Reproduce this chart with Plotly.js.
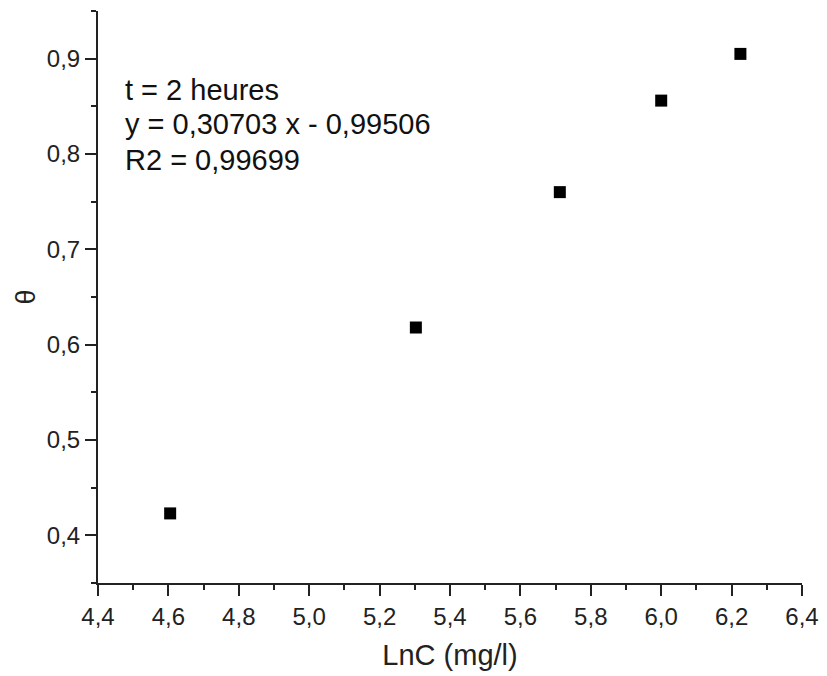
<!DOCTYPE html>
<html>
<head>
<meta charset="utf-8">
<script src="https://cdn.plot.ly/plotly-3.0.1.min.js"></script>
<style>html,body{margin:0;padding:0;background:#fff;}#chart{width:827px;height:676px;}</style>
</head>
<body>
<div id="chart"></div>
<script>
const lnC = [4.605, 5.303, 5.712, 6.0, 6.225];
const theta = [0.423, 0.618, 0.760, 0.856, 0.905];
const xTitle = 'LnC (mg/l)';
const yTitle = 'θ';
const annotationLines = ['t = 2 heures', 'y = 0,30703 x - 0,99506', 'R2 = 0,99699'];
const annotationY = [0.862, 0.802, 0.740];

const fam = 'Liberation Sans, Arial, sans-serif';
const tickFont = {family: fam, size: 24, color: '#222'};
const titleFont = {family: fam, size: 29, color: '#222'};
const annFont = {family: fam, size: 29, color: '#111'};

const trace = {
  x: lnC, y: theta, type: 'scatter', mode: 'markers',
  marker: {symbol: 'square', size: 12, color: '#000'},
  showlegend: false
};

const axisCommon = {
  showline: true, linecolor: '#222', linewidth: 2,
  ticks: 'outside', ticklen: 11, tickwidth: 2, tickcolor: '#222',
  showgrid: false, zeroline: false, tickfont: tickFont, mirror: false
};

const layout = {
  width: 827, height: 676,
  margin: {l: 98, r: 25, t: 11, b: 93},
  paper_bgcolor: '#fff', plot_bgcolor: '#fff',
  separators: ', ',
  font: tickFont,
  xaxis: Object.assign({}, axisCommon, {
    range: [4.4, 6.4], dtick: 0.2, tick0: 4.4, tickformat: '.1f',
    minor: {dtick: 0.1, ticks: 'outside', ticklen: 5, tickwidth: 2, tickcolor: '#222', showgrid: false},
    title: {text: xTitle, font: titleFont, standoff: 16}
  }),
  yaxis: Object.assign({}, axisCommon, {
    range: [0.35, 0.95], dtick: 0.1, tick0: 0.4, tickformat: '.1f',
    minor: {dtick: 0.05, ticks: 'outside', ticklen: 5, tickwidth: 2, tickcolor: '#222', showgrid: false},
    title: {text: yTitle, font: {family: fam, size: 27, color: '#222'}, standoff: 3}
  }),
  annotations: annotationLines.map((t, i) => ({
    text: t, xref: 'paper', yref: 'paper', x: 0.035, y: annotationY[i],
    xanchor: 'left', yanchor: 'middle', showarrow: false, font: annFont
  }))
};

Plotly.newPlot('chart', [trace], layout, {displayModeBar: false, staticPlot: true});
</script>
</body>
</html>
